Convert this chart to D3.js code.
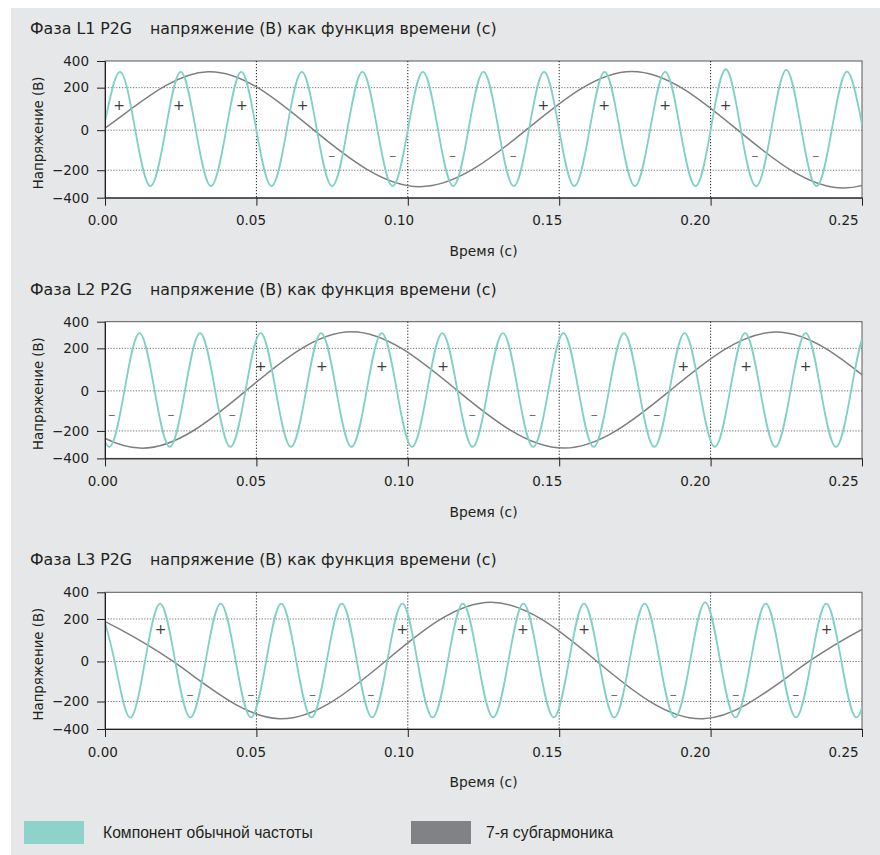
<!DOCTYPE html>
<html>
<head>
<meta charset="utf-8">
<script src="https://cdn.jsdelivr.net/npm/d3@7"></script>
<style>
body { margin: 0; background: #fff; }
text { font-family: "DejaVu Sans", sans-serif; fill: #231f20; }
.signs { opacity: 0.99; }
</style>
</head>
<body>
<script>
// ---- data ----
var phases = ["L1", "L2", "L3"];
var timeTicks = [0, 0.05, 0.10, 0.15, 0.20, 0.25];
var voltTicks = [400, 200, 0, -200, -400];
var legendLabels = ["Компонент обычной частоты", "7-я субгармоника"];

// fundamental component: peaks, troughs and zero crossings [time s, volts]
var fundL1 = [[-0.005,-315],[0,40],[0.005,318],[0.01,0],[0.015,-316],[0.02,0],[0.025,318],[0.03,0],[0.035,-316],[0.04,0],[0.045,318],[0.05,0],[0.055,-316],[0.06,0],[0.065,318],[0.07,0],[0.075,-316],[0.08,0],[0.085,318],[0.09,0],[0.095,-316],[0.1,0],[0.105,318],[0.11,0],[0.115,-316],[0.12,0],[0.125,318],[0.13,0],[0.135,-316],[0.14,0],[0.145,318],[0.15,0],[0.155,-316],[0.16,0],[0.165,318],[0.17,0],[0.175,-316],[0.18,0],[0.185,318],[0.19,0],[0.195,-316],[0.2,0],[0.205,338],[0.21,0],[0.215,-316],[0.22,0],[0.225,334],[0.23,0],[0.235,-316],[0.24,0],[0.245,320],[0.25,30],[0.255,-316]];
var fundL2 = [[-0.0036,0],[0.0014,-316],[0.0064,0],[0.0114,315],[0.0164,0],[0.0214,-316],[0.0264,0],[0.0314,315],[0.0364,0],[0.0414,-316],[0.0464,0],[0.0514,315],[0.0564,0],[0.0614,-316],[0.0664,0],[0.0714,315],[0.0764,0],[0.0814,-316],[0.0864,0],[0.0914,315],[0.0964,0],[0.1014,-316],[0.1064,0],[0.1114,315],[0.1164,0],[0.1214,-316],[0.1264,0],[0.1314,315],[0.1364,0],[0.1414,-316],[0.1464,0],[0.1514,315],[0.1564,0],[0.1614,-316],[0.1664,0],[0.1714,315],[0.1764,0],[0.1814,-316],[0.1864,0],[0.1914,315],[0.1964,0],[0.2014,-316],[0.2064,0],[0.2114,315],[0.2164,0],[0.2214,-316],[0.2264,0],[0.2314,315],[0.2364,0],[0.2414,-316],[0.2464,0],[0.2514,315],[0.2564,0]];
var fundL3 = [[-0.0018,315],[0.0032,0],[0.0082,-316],[0.0132,0],[0.0182,315],[0.0232,0],[0.0282,-316],[0.0332,0],[0.0382,315],[0.0432,0],[0.0482,-316],[0.0532,0],[0.0582,315],[0.0632,0],[0.0682,-316],[0.0732,0],[0.0782,315],[0.0832,0],[0.0882,-316],[0.0932,0],[0.0982,315],[0.1032,0],[0.1082,-316],[0.1132,0],[0.1182,315],[0.1232,0],[0.1282,-316],[0.1332,0],[0.1382,315],[0.1432,0],[0.1482,-316],[0.1532,0],[0.1582,315],[0.1632,0],[0.1682,-316],[0.1732,0],[0.1782,315],[0.1832,0],[0.1882,-316],[0.1932,0],[0.1982,325],[0.2032,0],[0.2082,-316],[0.2132,0],[0.2182,315],[0.2232,0],[0.2282,-316],[0.2332,0],[0.2382,315],[0.2432,0],[0.2482,-316],[0.2532,0]];

// 7th subharmonic
var subL1 = [[-0.036,-320],[-0.001,0],[0.034,320],[0.069,0],[0.104,-320],[0.139,0],[0.174,322],[0.209,0],[0.244,-330],[0.279,0]];
var subL2 = [[-0.0585,322],[-0.0235,0],[0.0115,-325],[0.0465,0],[0.0815,325],[0.1165,0],[0.1515,-325],[0.1865,0],[0.2215,322],[0.2565,0]];
var subL3 = [[-0.0125,322],[0.0225,0],[0.0575,-325],[0.0925,0],[0.1275,325],[0.1625,0],[0.1975,-325],[0.2325,0],[0.2675,322]];

// +/- marks [time s, sign]
var signsL1 = [[0.0047,"+"],[0.0244,"+"],[0.0452,"+"],[0.0653,"+"],[0.0749,"-"],[0.095,"-"],[0.1148,"-"],[0.1348,"-"],[0.1448,"+"],[0.1648,"+"],[0.185,"+"],[0.205,"+"],[0.2147,"-"],[0.2347,"-"]];
var signsL2 = [[0.0022,"-"],[0.0218,"-"],[0.042,"-"],[0.0514,"+"],[0.0716,"+"],[0.0914,"+"],[0.1117,"+"],[0.1213,"-"],[0.1412,"-"],[0.1616,"-"],[0.1822,"-"],[0.191,"+"],[0.2117,"+"],[0.2314,"+"]];
var signsL3 = [[0.0184,"+"],[0.0281,"-"],[0.0481,"-"],[0.0685,"-"],[0.0878,"-"],[0.0982,"+"],[0.118,"+"],[0.138,"+"],[0.1582,"+"],[0.1682,"-"],[0.1877,"-"],[0.2083,"-"],[0.2281,"-"],[0.2383,"+"]];
// volt level of the + and - marks per phase
var signLevels = [[120, -126], [115, -115], [153, -163]];

var fundSeries = [fundL1, fundL2, fundL3];
var subSeries = [subL1, subL2, subL3];
var signSeries = [signsL1, signsL2, signsL3];

// ---- layout ----
var W = 880, H = 855;
var left = 105, plotW = 757, plotH = 136.7;
var panelTops = [61, 321.7, 592.3];
var teal = "#7fd1c5", gray = "#7d7e80";

var svg = d3.select("body").append("svg")
    .attr("width", W)
    .attr("height", H);

svg.append("rect")
    .attr("x", 11).attr("y", 8)
    .attr("width", W - 11).attr("height", H - 8)
    .attr("fill", "#e6e7e8");

var x = d3.scaleLinear().domain([0, 0.25]).range([0, plotW]);
// the source grid is not evenly spaced, so the scale is piecewise
var y = d3.scaleLinear()
    .domain(voltTicks)
    .range([0, 0.195, 0.506, 0.799, 1].map(function (f) { return f * plotH; }));

var line = d3.line()
    .x(function (d) { return x(d[0]); })
    .y(function (d) { return y(d[1]); })
    .curve(d3.curveNatural);

phases.forEach(function (ph, i) {
    var g = svg.append("g")
        .attr("transform", "translate(" + left + "," + panelTops[i] + ")");

    // title
    g.append("text")
        .attr("x", 30 - left).attr("y", -26.9)
        .style("font-size", "15.8px")
        .text("Фаза " + ph + " P2G");
    g.append("text")
        .attr("x", 150 - left).attr("y", -26.9)
        .style("font-size", "15.8px")
        .text("напряжение (В) как функция времени (с)");

    g.append("rect")
        .attr("width", plotW).attr("height", plotH)
        .attr("fill", "#fff")
        .attr("stroke", "#58595b")
        .attr("stroke-width", 1);

    // grid
    g.selectAll(".hgrid").data([200, 0, -200]).enter().append("line")
        .attr("x1", 0).attr("x2", plotW)
        .attr("y1", function (d) { return y(d); })
        .attr("y2", function (d) { return y(d); })
        .attr("stroke", "#6d6e71")
        .attr("stroke-dasharray", "1.2,1.6");
    g.selectAll(".vgrid").data(timeTicks.slice(1, 5)).enter().append("line")
        .attr("y1", 0).attr("y2", plotH)
        .attr("x1", function (d) { return x(d); })
        .attr("x2", function (d) { return x(d); })
        .attr("stroke", "#231f20")
        .attr("stroke-dasharray", "1.2,1.8");

    var clipId = "clip" + i;
    g.append("clipPath").attr("id", clipId)
        .append("rect").attr("width", plotW).attr("height", plotH);

    var curves = g.append("g").attr("clip-path", "url(#" + clipId + ")");
    curves.append("path")
        .attr("d", line(subSeries[i]))
        .attr("fill", "none")
        .attr("stroke", gray)
        .attr("stroke-width", 1.5);
    curves.append("path")
        .attr("d", line(fundSeries[i]))
        .attr("fill", "none")
        .attr("stroke", teal)
        .attr("stroke-width", 1.8);

    g.append("g").attr("class", "signs")
        .selectAll("text").data(signSeries[i]).enter().append("text")
        .attr("x", function (d) { return x(d[0]); })
        .attr("y", function (d) { return y(d[1] === "+" ? signLevels[i][0] : signLevels[i][1]); })
        .attr("dy", "0.35em")
        .attr("text-anchor", "middle")
        .style("font-size", "14px")
        .style("fill", function (d) { return d[1] === "+" ? "#3a3a3a" : "#6a6a6a"; })
        .text(function (d) { return d[1] === "+" ? "+" : "–"; });

    // axes
    var yAxis = d3.axisLeft(y).tickValues(voltTicks).tickSize(8).tickSizeOuter(0).tickPadding(8)
        .tickFormat(d3.format("d"));
    var ya = g.append("g").call(yAxis);
    ya.selectAll("text").style("font-size", "13.5px").style("fill", "#231f20")
        .style("font-family", "'DejaVu Sans', sans-serif");
    ya.selectAll("line, path").attr("stroke", "#231f20");

    var xAxis = d3.axisBottom(x).tickValues(timeTicks).tickSize(8).tickSizeOuter(0).tickPadding(10)
        .tickFormat(d3.format(".2f"));
    var xa = g.append("g").attr("transform", "translate(0," + plotH + ")").call(xAxis);
    xa.selectAll("line, path").attr("stroke", "#231f20");
    xa.selectAll("text").style("font-size", "13.5px").style("fill", "#231f20")
        .style("font-family", "'DejaVu Sans', sans-serif")
        // labels in the source sit on a slightly narrower spacing than the ticks
        .attr("dx", function (d) { return -2.7 - x(d) * 0.0215; });

    g.append("text")
        .attr("x", plotW / 2).attr("y", plotH + 58.5)
        .attr("text-anchor", "middle")
        .style("font-size", "13.8px")
        .text("Время (с)");

    g.append("text")
        .attr("transform", "translate(" + (38 - left) + "," + (plotH / 2 + 3.5) + ") rotate(-90)")
        .attr("text-anchor", "middle")
        .attr("dy", "0.35em")
        .style("font-size", "13.3px")
        .text("Напряжение (В)");
});

// legend
var swatchX = [24, 411], labelX = [103, 486];
legendLabels.forEach(function (lab, i) {
    svg.append("rect")
        .attr("x", swatchX[i]).attr("y", 821)
        .attr("width", 60).attr("height", 23)
        .attr("fill", i === 0 ? "#8dd3c9" : "#808285");
    svg.append("text")
        .attr("x", labelX[i]).attr("y", 832.5).attr("dy", "0.35em")
        .style("font-family", "'Liberation Sans', Arial, sans-serif")
        .style("font-size", "15.7px")
        .text(lab);
});
</script>
</body>
</html>
